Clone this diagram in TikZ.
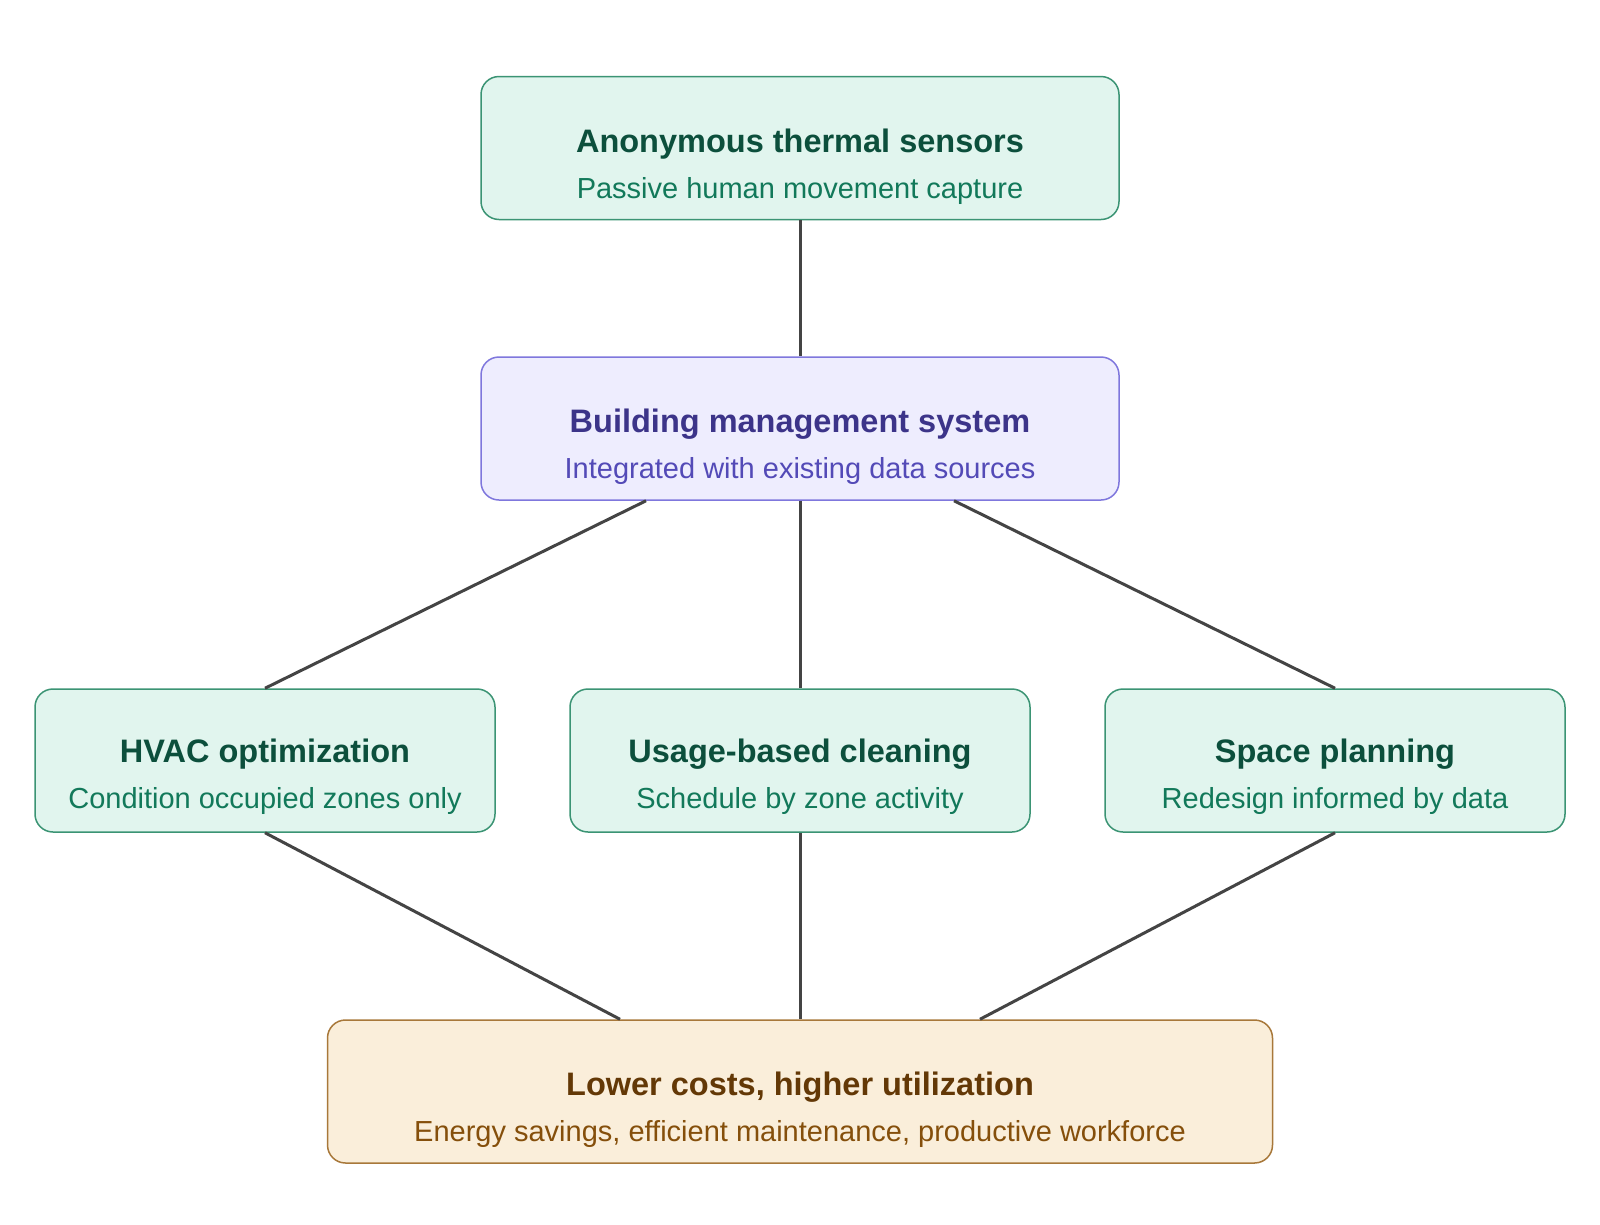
\documentclass[tikz,border=0pt]{standalone}
\usepackage{fontspec}
\setmainfont{Liberation Sans}
\usetikzlibrary{calc}
\definecolor{gfill}{HTML}{E1F5EE}
\definecolor{gdraw}{HTML}{3B9474}
\definecolor{gtitle}{HTML}{0C4F3C}
\definecolor{gsub}{HTML}{12795A}
\definecolor{pfill}{HTML}{EEEDFE}
\definecolor{pdraw}{HTML}{7F77DD}
\definecolor{ptitle}{HTML}{3C3489}
\definecolor{psub}{HTML}{534AB7}
\definecolor{ofill}{HTML}{FAEEDA}
\definecolor{odraw}{HTML}{A8783A}
\definecolor{otitle}{HTML}{633806}
\definecolor{osub}{HTML}{854F0B}
\definecolor{linkc}{HTML}{444444}
\tikzset{
  box/.style={rectangle, rounded corners=18pt, line width=1.5pt, inner sep=0pt, minimum height=143pt},
  gbox/.style={box, draw=gdraw, fill=gfill},
  pbox/.style={box, draw=pdraw, fill=pfill},
  obox/.style={box, draw=odraw, fill=ofill},
  ttl/.style={anchor=base, inner sep=0pt, font=\fontsize{32.5}{36}\selectfont\bfseries},
  sub/.style={anchor=base, inner sep=0pt, font=\fontsize{29}{32}\selectfont},
  link/.style={draw=linkc, line width=3pt}
}
\begin{document}
\begin{tikzpicture}[x=1pt,y=-1pt]
\useasboundingbox[fill=white] (0,0) rectangle (1600,1224);
% boxes
\node[gbox, minimum width=638pt] (sensors) at (800,148) {};
\node[pbox, minimum width=638pt] (bms) at (800,428.5) {};
\node[gbox, minimum width=460pt] (hvac) at (265,760.5) {};
\node[gbox, minimum width=460pt] (clean) at (800,760.5) {};
\node[gbox, minimum width=460pt] (space) at (1335,760.5) {};
\node[obox, minimum width=945pt] (outcome) at (800,1091.5) {};
% connectors
\draw[link] (sensors.south) -- (bms.north);
\draw[link] ($(bms.south)+(-154,0)$) -- (hvac.north);
\draw[link] (bms.south) -- (clean.north);
\draw[link] ($(bms.south)+(154,0)$) -- (space.north);
\draw[link] (hvac.south) -- ($(outcome.north)+(-180,0)$);
\draw[link] (clean.south) -- (outcome.north);
\draw[link] (space.south) -- ($(outcome.north)+(180,0)$);
% texts
\node[ttl, text=gtitle] (t1) at (800,152) {Anonymous thermal sensors};
\node[sub, text=gsub] (s1) at (800,198) {Passive human movement capture};
\node[ttl, text=ptitle] (t2) at (800,432) {Building management system};
\node[sub, text=psub] (s2) at (800,478) {Integrated with existing data sources};
\node[ttl, text=gtitle] (t3) at (265,762) {HVAC optimization};
\node[sub, text=gsub] (s3) at (265,808) {Condition occupied zones only};
\node[ttl, text=gtitle] (t4) at (800,762) {Usage-based cleaning};
\node[sub, text=gsub] (s4) at (800,808) {Schedule by zone activity};
\node[ttl, text=gtitle] (t5) at (1335,762) {Space planning};
\node[sub, text=gsub] (s5) at (1335,808) {Redesign informed by data};
\node[ttl, text=otitle] (t6) at (800,1095) {Lower costs, higher utilization};
\node[sub, text=osub] (s6) at (800,1141) {Energy savings, efficient maintenance, productive workforce};
\end{tikzpicture}
\end{document}
